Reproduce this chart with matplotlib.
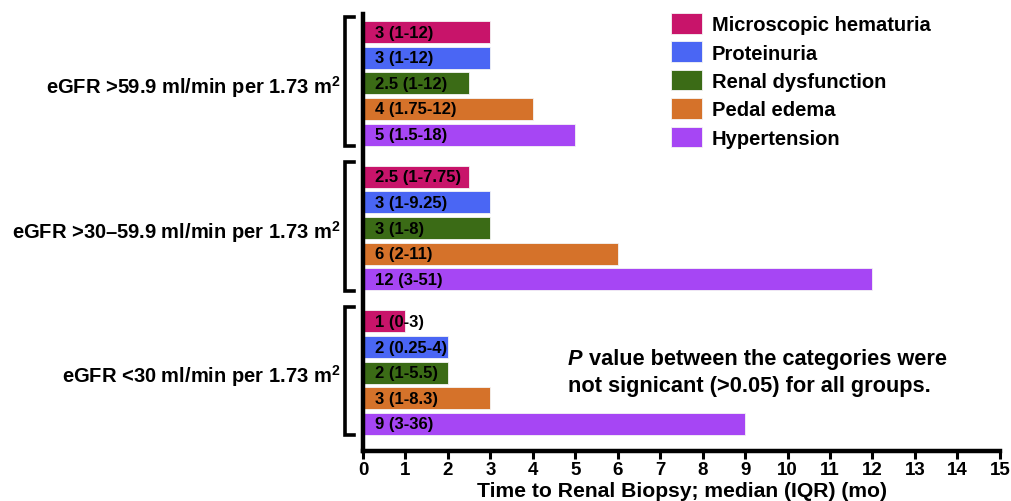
import numpy as np
import matplotlib
matplotlib.use("Agg")
import matplotlib.pyplot as plt

plt.rcParams['font.family'] = ['Liberation Sans', 'DejaVu Sans']
plt.rcParams['mathtext.fontset'] = 'custom'
plt.rcParams['mathtext.rm'] = 'Liberation Sans:bold'
plt.rcParams['mathtext.bf'] = 'Liberation Sans:bold'

groups = ['eGFR >59.9 ml/min per 1.73 m$^{2}$',
          'eGFR >30\u201359.9 ml/min per 1.73 m$^{2}$',
          'eGFR <30 ml/min per 1.73 m$^{2}$']
series = ['Microscopic hematuria', 'Proteinuria', 'Renal dysfunction',
          'Pedal edema', 'Hypertension']
colors = ['#C8146A', '#4A66F4', '#3B6B16', '#D5722A', '#A646F4']

# median months, per group (rows) and series (cols)
medians = [[3, 3, 2.5, 4, 5],
           [2.5, 3, 3, 6, 12],
           [1, 2, 2, 3, 9]]
labels = [['3 (1-12)', '3 (1-12)', '2.5 (1-12)', '4 (1.75-12)', '5 (1.5-18)'],
          ['2.5 (1-7.75)', '3 (1-9.25)', '3 (1-8)', '6 (2-11)', '12 (3-51)'],
          ['1 (0-3)', '2 (0.25-4)', '2 (1-5.5)', '3 (1-8.3)', '9 (3-36)']]

group_step = 5.65
bar_h = 0.86

fig = plt.figure(figsize=(10.11, 5.02), dpi=100)
ax = fig.add_axes([0.359, 0.0996, 0.630, 0.870])

handles = []
for g in range(3):
    base = g * group_step
    for i in range(5):
        y = base + i
        b = ax.barh(y, medians[g][i], height=bar_h, color=colors[i],
                    edgecolor='#f4f4f4', linewidth=0.6,
                    label=series[i] if g == 0 else None)
        if g == 0:
            handles.append(b)
        ax.text(0.28, y, labels[g][i], ha='left', va='center',
                fontsize=12, fontweight='bold', color='black')
    # group bracket
    y0, y1 = base - 0.58, base + 4 + 0.45
    ax.plot([-0.22, -0.42, -0.42, -0.22], [y0, y0, y1, y1], color='black',
            lw=2.6, clip_on=False, solid_joinstyle='miter')
    ax.text(-0.52, base + 2.1, groups[g], ha='right', va='center',
            fontsize=14.5, fontweight='bold', clip_on=False)

ax.set_xlim(0, 15)
ax.set_ylim(2 * group_step + 4 + 1.06, -0.7)
ax.set_xticks(np.arange(0, 16, 1))
ax.set_yticks([])
for s in ['top', 'right']:
    ax.spines[s].set_visible(False)
for s in ['left', 'bottom']:
    ax.spines[s].set_linewidth(3.2)
ax.tick_params(axis='x', length=6, width=2.2, pad=1.5, labelsize=13.5)
for t in ax.get_xticklabels():
    t.set_fontweight('bold')
fig.text(0.675, 0.01, 'Time to Renal Biopsy; median (IQR) (mo)',
         fontsize=15.2, fontweight='bold', ha='center', va='baseline')

fig.legend(handles=handles, loc='upper left', bbox_to_anchor=(0.664, 0.972),
           frameon=False, prop={'weight': 'bold', 'size': 14.5},
           handlelength=1.5, handleheight=1.2, handletextpad=0.5,
           labelspacing=0.36, borderpad=0, borderaxespad=0)

p = ax.text(4.83, 12.75, 'P', fontsize=15.7, fontweight='bold',
            fontstyle='italic', ha='left', va='center')
ax.annotate(' value between the categories were', xy=(1, 0.5), xycoords=p,
            ha='left', va='center', fontsize=15.7, fontweight='bold')
ax.text(4.83, 13.8, 'not signicant (>0.05) for all groups.', fontsize=15.7,
        fontweight='bold', ha='left', va='center')

fig.savefig('out.png', dpi=100)
